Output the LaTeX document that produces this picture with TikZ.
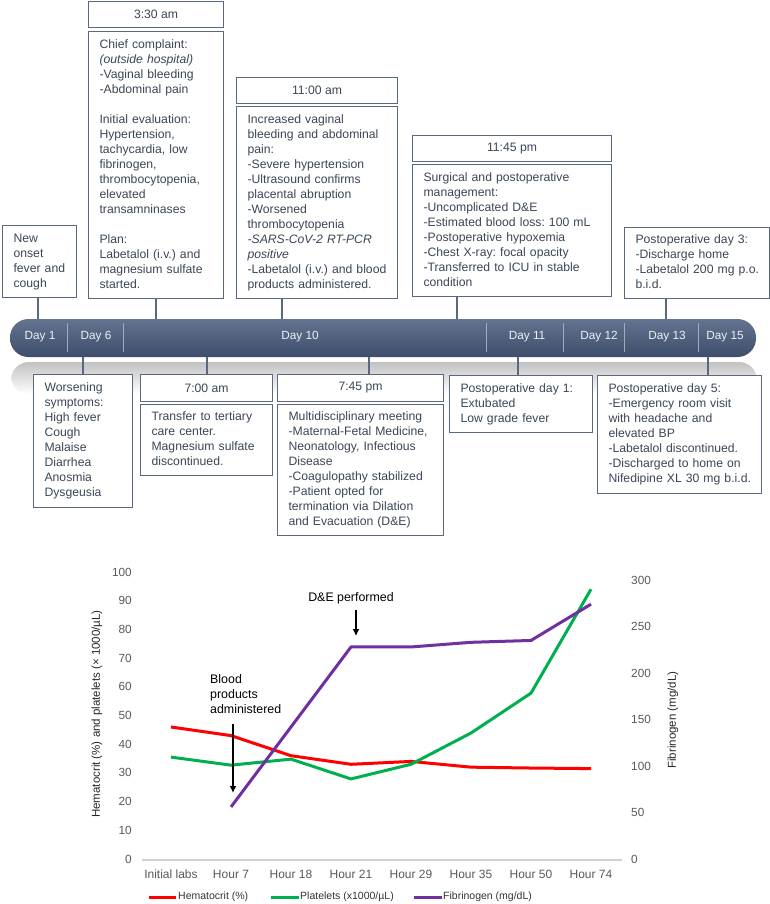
\documentclass[tikz,border=0pt]{standalone}
\usepackage{fontspec}
\setmainfont{Liberation Sans}
\usepackage{xcolor}
\usepackage{tikz}
\usetikzlibrary{arrows.meta,positioning,calc}
\frenchspacing

\definecolor{ink}{HTML}{3B4657}
\definecolor{frame}{HTML}{5A6880}
\definecolor{barTop}{HTML}{64738F}
\definecolor{barBot}{HTML}{3E4D6A}
\definecolor{hctRed}{HTML}{FF0000}
\definecolor{pltGreen}{HTML}{00B050}
\definecolor{fibPurple}{HTML}{7030A0}
\definecolor{tickGray}{HTML}{595959}

\newcommand{\boxlines}[1]{\begin{tabular}{@{}l@{}}#1\end{tabular}}

\begin{document}
\begin{tikzpicture}[
    x=1pt,y=-1pt,
    >={Latex[length=7pt,width=7pt]},
    note/.style={draw=frame,line width=1.1pt,fill=white,anchor=north west,
      inner xsep=11pt,inner ysep=0pt,align=left,text=ink,
      font=\fontsize{12.2}{15}\selectfont},
    stamp/.style={draw=frame,line width=1.1pt,fill=white,anchor=north west,
      inner sep=0pt,align=center,text=ink,font=\fontsize{12.2}{15}\selectfont},
    link/.style={draw=frame,line width=1.1pt},
    timebar/.style={rounded corners=18.5pt,top color=barTop,bottom color=barBot,
      minimum width=746pt,minimum height=38pt,inner sep=0pt},
    daylab/.style={text=white!90!barTop,font=\fontsize{11.8}{14}\selectfont},
    daysep/.style={draw=white!40!barTop,line width=0.8pt},
    tick/.style={text=tickGray,font=\fontsize{11.8}{14}\selectfont},
    axtitle/.style={text=black!85,font=\fontsize{11.5}{13}\selectfont,rotate=90},
    marker/.style={->,line width=1.6pt,black},
    callout/.style={font=\fontsize{12.4}{15}\selectfont,align=left,inner sep=0pt},
    hct/.style={hctRed,line width=3pt,line join=round},
    plt/.style={pltGreen,line width=3pt,line join=round},
    fib/.style={fibPurple,line width=3pt,line join=round},
    keytext/.style={text=black!80,anchor=west,inner sep=0pt,
      font=\fontsize{10.5}{12}\selectfont}
  ]
    \useasboundingbox (0,0) rectangle (770,904);

    \shade[top color=black!24,bottom color=white,rounded corners=18pt]
      (11,362) rectangle (757,394);
    \node[timebar] (bar) at (383,338) {};
    \foreach \sx in {67,123,486,563,624,698}
      \draw[daysep] (\sx,323) -- (\sx,352);
    \node[daylab] (d1) at (40,337) {Day 1};
    \node[daylab] (d6) at (96,337) {Day 6};
    \node[daylab] (d10) at (300,337) {Day 10};
    \node[daylab] (d11) at (527,337) {Day 11};
    \node[daylab] (d12) at (599,337) {Day 12};
    \node[daylab] (d13) at (667,337) {Day 13};
    \node[daylab] (d15) at (725,337) {Day 15};

    \coordinate (hOnset) at (38,319);
    \coordinate (h330) at (156,319);
    \coordinate (h1100) at (282,319);
    \coordinate (h1145) at (457,319);
    \coordinate (hPod3) at (666,319);
    \coordinate (hWorse) at (83,357);
    \coordinate (h700) at (207,357);
    \coordinate (h745) at (369,357);
    \coordinate (hPod1) at (518,357);
    \coordinate (hPod5) at (708,357);

    \node[note,text width=52pt,minimum height=72pt] (onset) at (2,225)
      {\boxlines{New\\onset\\fever and\\cough}};
    \node[stamp,minimum width=135pt,minimum height=26pt] (t330) at (88,1) {3:30 am};
    \node[note,text width=113pt,minimum height=267pt] (b330) at (88,31)
      {\boxlines{Chief complaint:\\\itshape (outside hospital)\\-Vaginal bleeding\\-Abdominal pain\\[15pt]
       Initial evaluation:\\Hypertension,\\tachycardia, low\\fibrinogen,\\thrombocytopenia,\\elevated\\transamninases\\[15pt]
       Plan:\\Labetalol (i.v.) and\\magnesium sulfate\\started.}};
    \node[stamp,minimum width=161pt,minimum height=26pt] (t1100) at (236,77) {11:00 am};
    \node[note,text width=139pt,minimum height=192pt] (b1100) at (236,106)
      {\boxlines{Increased vaginal\\bleeding and abdominal\\pain:\\-Severe hypertension\\-Ultrasound confirms\\placental abruption\\-Worsened\\thrombocytopenia\\
       \itshape -SARS-CoV-2 RT-PCR\\\itshape positive\\-Labetalol (i.v.) and blood\\products administered.}};
    \node[stamp,minimum width=199pt,minimum height=26pt] (t1145) at (412,135) {11:45 pm};
    \node[note,text width=177pt,minimum height=132pt] (b1145) at (412,164)
      {\boxlines{Surgical and postoperative\\management:\\-Uncomplicated D\&E\\-Estimated blood loss: 100 mL\\-Postoperative hypoxemia\\-Chest X-ray: focal opacity\\-Transferred to ICU in stable\\condition}};
    \node[note,text width=123pt,minimum height=71pt] (pod3) at (624,227)
      {\boxlines{Postoperative day 3:\\-Discharge home\\-Labetalol 200 mg p.o.\\b.i.d.}};

    \node[note,text width=77pt,minimum height=133pt] (worse) at (33,374)
      {\boxlines{Worsening\\symptoms:\\High fever\\Cough\\Malaise\\Diarrhea\\Anosmia\\Dysgeusia}};
    \node[stamp,minimum width=132pt,minimum height=27pt] (t700) at (140,374) {7:00 am};
    \node[note,text width=110pt,minimum height=71pt] (b700) at (140,404)
      {\boxlines{Transfer to tertiary\\care center.\\Magnesium sulfate\\discontinued.}};
    \node[stamp,minimum width=166pt,minimum height=27pt] (t745) at (277,374) {7:45 pm};
    \node[note,text width=144pt,minimum height=131pt] (b745) at (277,404)
      {\boxlines{Multidisciplinary meeting\\-Maternal-Fetal Medicine,\\Neonatology, Infectious\\Disease\\-Coagulopathy stabilized\\-Patient opted for\\termination via Dilation\\and Evacuation (D\&E)}};
    \node[note,text width=121pt,minimum height=57pt] (pod1) at (449,375)
      {\boxlines{Postoperative day 1:\\Extubated\\Low grade fever}};
    \node[note,text width=142pt,minimum height=118pt] (pod5) at (597,375)
      {\boxlines{Postoperative day 5:\\-Emergency room visit\\with headache and\\elevated BP\\-Labetalol discontinued.\\-Discharged to home on\\Nifedipine XL 30 mg b.i.d.}};

    \draw[link] (onset.south -| hOnset) -- (hOnset);
    \draw[link] (b330.south -| h330) -- (h330);
    \draw[link] (b1100.south -| h1100) -- (h1100);
    \draw[link] (b1145.south -| h1145) -- (h1145);
    \draw[link] (pod3.south -| hPod3) -- (hPod3);
    \draw[link] (hWorse) -- (worse.north -| hWorse);
    \draw[link] (h700) -- (t700.north -| h700);
    \draw[link] (h745) -- (t745.north -| h745);
    \draw[link] (hPod1) -- (pod1.north -| hPod1);
    \draw[link] (hPod5) -- (pod5.north -| hPod5);

    \draw[line width=2pt,black!18] (142,860) -- (622,860);
    \foreach \lab [count=\i from 0] in {Initial labs,Hour 7,Hour 18,Hour 21,Hour 29,Hour 35,Hour 50,Hour 74}
      \node[tick,font=\fontsize{12}{14}\selectfont] (cat\i) at ({171+60*\i},874) {\lab};
    \begin{scope}[shift={(171,859)},x=60pt,y=2.87pt]
      \foreach \v in {0,10,...,100}
        \node[tick,anchor=east,inner sep=0pt] (lt\v) at (-0.65,\v) {\v};
      \draw[hct] plot coordinates {(0,46) (1,43) (2,36) (3,33) (4,34) (5,32) (6,31.7) (7,31.5)};
      \draw[plt] plot coordinates {(0,35.5) (1,32.7) (2,34.8) (3,27.9) (4,33) (5,43.9) (6,57.8) (7,94)};
    \end{scope}
    \begin{scope}[shift={(171,859)},x=60pt,y=0.93pt]
      \foreach \f in {0,50,...,300}
        \node[tick,anchor=west,inner sep=0pt] (rt\f) at (7.667,\f) {\f};
      \draw[fib] plot coordinates {(1,56) (3,228) (4,228) (5,233) (6,235) (7,274)};
    \end{scope}
    \node[axtitle] (ltitle) at (97,714) {Hematocrit (\%) and platelets (× 1000/µL)};
    \node[axtitle] (rtitle) at (673,720) {Fibrinogen (mg/dL)};

    \node[callout,anchor=west] (blood) at (210,694) {Blood\\products\\administered};
    \coordinate (bpFrom) at (233,724);
    \coordinate (bpTo) at (233,793);
    \draw[marker] (bpFrom) -- (bpTo);
    \node[callout] (dne) at (351,598) {D\&E performed};
    \coordinate (dneFrom) at (356,610);
    \coordinate (dneTo) at (356,636);
    \draw[marker] (dneFrom) -- (dneTo);

    \draw[hct] (149,897) -- (176,897);
    \node[keytext] (kHct) at (178,897) {Hematocrit (\%)};
    \draw[plt] (271,897) -- (299,897);
    \node[keytext] (kPlt) at (300,897) {Platelets (x1000/µL)};
    \draw[fib] (414,897) -- (442,897);
    \node[keytext] (kFib) at (443,897) {Fibrinogen (mg/dL)};
  \end{tikzpicture}
\end{document}
